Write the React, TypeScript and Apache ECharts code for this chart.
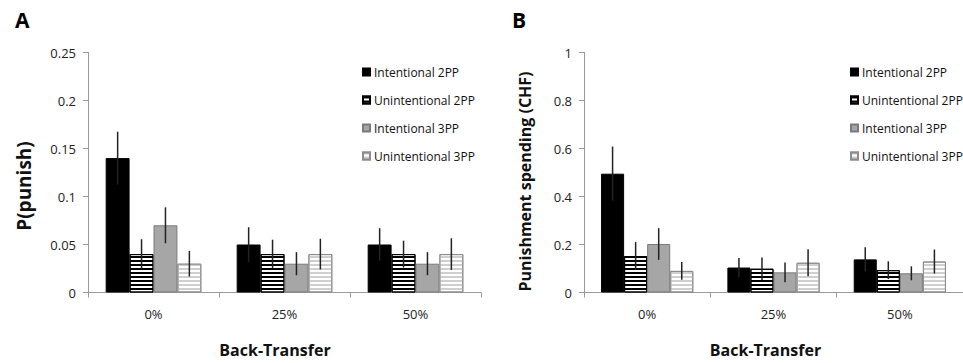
import React, { useEffect, useRef } from 'react';
import * as echarts from 'echarts';

const categories = ['0%', '25%', '50%'];
const seriesNames = ['Intentional 2PP', 'Unintentional 2PP', 'Intentional 3PP', 'Unintentional 3PP'];

// Panel A: P(punish)
const probInt2PP = [0.14, 0.05, 0.05];
const probInt2PPErr = [0.0275, 0.018, 0.017];
const probUnint2PP = [0.04, 0.04, 0.04];
const probUnint2PPErr = [0.0155, 0.015, 0.014];
const probInt3PP = [0.07, 0.03, 0.03];
const probInt3PPErr = [0.0187, 0.012, 0.012];
const probUnint3PP = [0.03, 0.04, 0.04];
const probUnint3PPErr = [0.0133, 0.016, 0.0165];

// Panel B: Punishment spending (CHF)
const spendInt2PP = [0.495, 0.104, 0.138];
const spendInt2PPErr = [0.113, 0.04, 0.051];
const spendUnint2PP = [0.152, 0.099, 0.093];
const spendUnint2PPErr = [0.058, 0.047, 0.037];
const spendInt3PP = [0.202, 0.084, 0.08];
const spendInt3PPErr = [0.066, 0.041, 0.029];
const spendUnint3PP = [0.09, 0.124, 0.129];
const spendUnint3PPErr = [0.037, 0.056, 0.05];

const yTicksA = { min: 0, max: 0.25, interval: 0.05 };
const yTicksB = { min: 0, max: 1, interval: 0.2 };

const CAT_GAP = 0.27;
const FONT = 'Open Sans';

const barStyles: any[] = [
  { color: '#000000', borderColor: '#000000', borderWidth: 1 },
  {
    color: '#ffffff', borderColor: '#000000', borderWidth: 1,
    decal: { symbol: 'rect', dashArrayX: [1, 0], dashArrayY: [1.5, 1.5], symbolSize: 1, rotation: 0, color: '#000000' },
  },
  { color: '#a6a6a6', borderColor: '#7a7a7a', borderWidth: 1 },
  {
    color: '#ffffff', borderColor: '#8c8c8c', borderWidth: 1,
    decal: { symbol: 'rect', dashArrayX: [1, 0], dashArrayY: [1.5, 1.5], symbolSize: 1, rotation: 0, color: '#cfcfcf' },
  },
];

function buildSeries(values: number[][], errs: number[][], gridIndex: number) {
  const out: any[] = [];
  values.forEach((vals, idx) => {
    out.push({
      type: 'bar',
      name: seriesNames[idx],
      xAxisIndex: gridIndex,
      yAxisIndex: gridIndex,
      data: vals,
      barGap: '0%',
      barCategoryGap: CAT_GAP * 100 + '%',
      itemStyle: barStyles[idx],
      emphasis: { disabled: true },
    });
  });
  values.forEach((vals, idx) => {
    out.push({
      type: 'custom',
      name: 'err-' + gridIndex + '-' + idx,
      xAxisIndex: gridIndex,
      yAxisIndex: gridIndex,
      z: 5,
      silent: true,
      data: vals.map((v, i) => [i, v, errs[idx][i]]),
      encode: { x: 0, y: 1 },
      renderItem: (params: any, api: any) => {
        const c = api.value(0);
        const v = api.value(1);
        const e = api.value(2);
        const band = api.size([1, 0])[0];
        const barW = (band * (1 - CAT_GAP)) / 4;
        const center = api.coord([c, v]);
        const x = center[0] + (idx - 1.5) * barW;
        const top = api.coord([c, v + e])[1];
        const bot = api.coord([c, v - e])[1];
        return {
          type: 'line',
          shape: { x1: x, y1: top, x2: x, y2: bot },
          style: { stroke: '#222222', lineWidth: 1.5 },
        };
      },
    });
  });
  return out;
}

function xAxisCfg(gridIndex: number, padRight: number) {
  return {
    type: 'category',
    gridIndex,
    data: categories,
    name: 'Back-Transfer',
    nameLocation: 'middle',
    nameGap: 49,
    nameTextStyle: { fontFamily: FONT, fontSize: 16, fontWeight: 'bold', color: '#111', padding: [0, padRight, 0, 0] },
    axisLine: { lineStyle: { color: '#9a9a9a', width: 1 } },
    axisTick: { show: true, length: 5, lineStyle: { color: '#9a9a9a' } },
    axisLabel: { fontFamily: FONT, fontSize: 13, color: '#222', margin: 15 },
  };
}

function yAxisCfg(gridIndex: number, ticks: any, name: string, nameSize: number, nameGap: number, padRight: number) {
  return {
    type: 'value',
    gridIndex,
    min: ticks.min,
    max: ticks.max,
    interval: ticks.interval,
    name,
    nameLocation: 'middle',
    nameGap,
    nameTextStyle: { fontFamily: FONT, fontSize: nameSize, fontWeight: 'bold', color: '#111', padding: [0, padRight, 0, 0] },
    axisLine: { show: true, lineStyle: { color: '#9a9a9a', width: 1 } },
    axisTick: { show: true, length: 5, lineStyle: { color: '#9a9a9a' } },
    axisLabel: { fontFamily: FONT, fontSize: 13, color: '#222', margin: 12 },
    splitLine: { show: false },
  };
}

function legendCfg(left: number) {
  return {
    orient: 'vertical',
    left,
    top: 64,
    padding: 0,
    data: seriesNames,
    icon: 'rect',
    itemWidth: 7,
    itemHeight: 7,
    itemGap: 12,
    selectedMode: false,
    textStyle: { fontFamily: FONT, fontSize: 12, color: '#111', lineHeight: 16, padding: [0, 0, 0, -1] },
  };
}

export default function App() {
  const ref = useRef<HTMLDivElement>(null);
  useEffect(() => {
    document.body.style.margin = '0';
    if (!ref.current) return;
    const chart = echarts.init(ref.current, undefined, { renderer: 'svg' });
    const titleStyle = { fontFamily: FONT, fontSize: 21, fontWeight: 'bold', color: '#000' };
    const option: any = {
      animation: false,
      backgroundColor: '#ffffff',
      title: [
        { text: 'A', left: 15, top: 9, padding: 0, textStyle: titleStyle },
        { text: 'B', left: 512, top: 9, padding: 0, textStyle: titleStyle },
      ],
      legend: [legendCfg(362), legendCfg(850)],
      grid: [
        { left: 88, top: 52.5, width: 393, height: 240 },
        { left: 584, top: 52.5, width: 388, height: 240 },
      ],
      xAxis: [xAxisCfg(0, 19), xAxisCfg(1, 16)],
      yAxis: [
        yAxisCfg(0, yTicksA, 'P(punish)', 19, 55, 27),
        yAxisCfg(1, yTicksB, 'Punishment spending (CHF)', 16, 51, 18),
      ],
      series: [
        ...buildSeries(
          [probInt2PP, probUnint2PP, probInt3PP, probUnint3PP],
          [probInt2PPErr, probUnint2PPErr, probInt3PPErr, probUnint3PPErr],
          0
        ),
        ...buildSeries(
          [spendInt2PP, spendUnint2PP, spendInt3PP, spendUnint3PP],
          [spendInt2PPErr, spendUnint2PPErr, spendInt3PPErr, spendUnint3PPErr],
          1
        ),
      ],
    };
    chart.setOption(option);
    return () => chart.dispose();
  }, []);
  return <div ref={ref} style={{ width: 963, height: 363 }} />;
}
